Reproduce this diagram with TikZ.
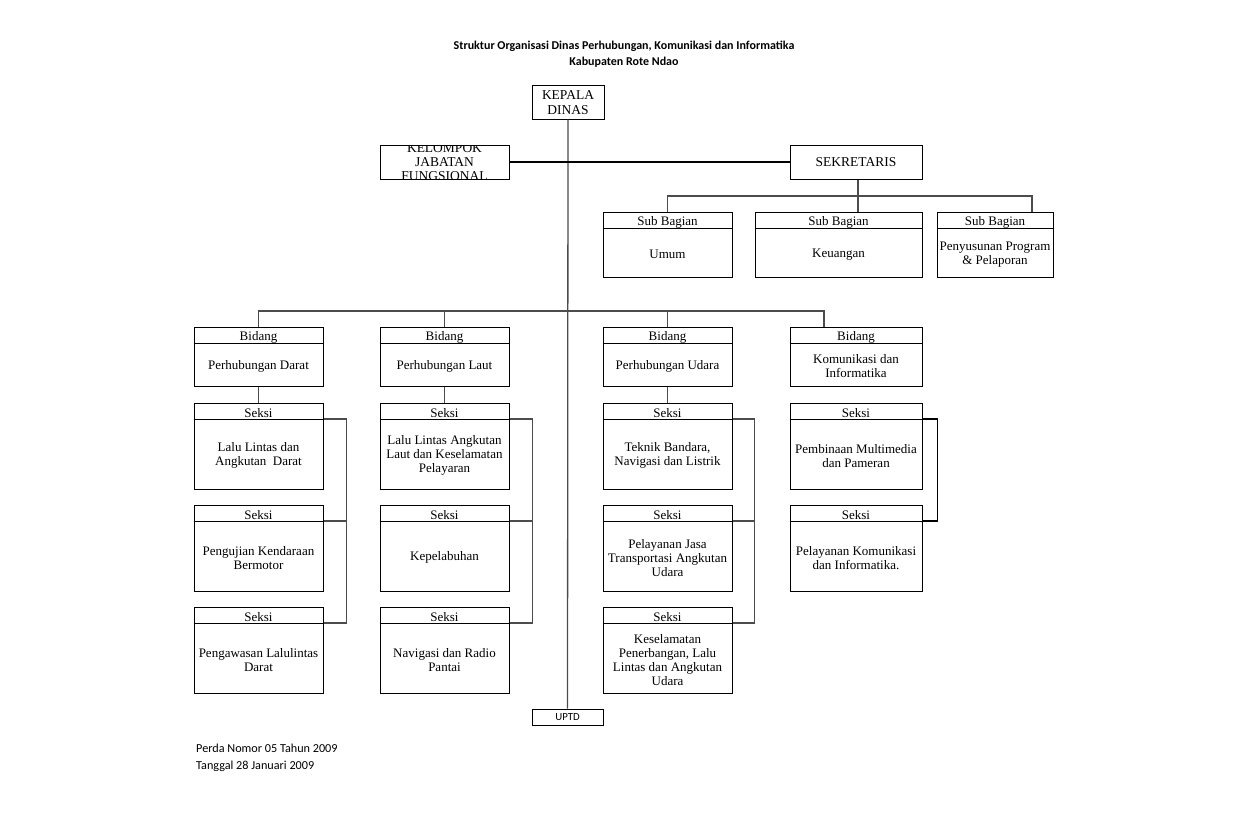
\documentclass[tikz,border=0pt]{standalone}
\usepackage{fontspec}
\setmainfont{Liberation Serif}
\newfontfamily\calfont{Carlito}
\usetikzlibrary{calc}
\newcommand{\orgbox}[7]{%
 \pgfmathsetmacro{\bw}{#4-#2}\pgfmathsetmacro{\bh}{#5-#3}%
 \pgfmathsetmacro{\bx}{(#2+#4)/2}\pgfmathsetmacro{\by}{(#3+#5)/2}%
 \node[box, minimum width=\bw pt, minimum height=\bh pt] (#1) at (\bx,\by) {};
 \draw[hline] ([yshift=-16.5pt]#1.north west) coordinate (#1-hw) -- ([yshift=-16.5pt]#1.north east) coordinate (#1-h);
 \node[txt] (#1-t) at ([yshift=-10.8pt]#1.north) {#6};
 \node[txt] (#1-b) at ($([yshift=-18pt]#1.north)!0.5!([yshift=-1.5pt]#1.south)$) {#7};
}
\begin{document}
\begin{tikzpicture}[x=1pt,y=-1pt,
 box/.style={draw=black, line width=1pt, shape=rectangle, inner sep=0pt},
 hline/.style={draw=black, line width=1pt},
 conn/.style={draw=black!70, line width=1.3pt},
 txt/.style={align=center, font=\fontsize{13}{14}\selectfont, inner sep=0pt}]
\useasboundingbox[fill=white] (0,0) rectangle (1248,816);

% title
\node[font=\calfont\bfseries\fontsize{12}{16}\selectfont, align=center, inner sep=0pt] (title) at (624,54) {Struktur Organisasi Dinas Perhubungan, Komunikasi dan Informatika\\Kabupaten Rote Ndao};

% top boxes
\node[box, minimum width=72pt, minimum height=33pt, align=center, font=\fontsize{13.5}{15}\selectfont] (kepala) at (568,102.5) {KEPALA\\DINAS};
\begin{scope}
 \clip (380,145) rectangle (509,179);
 \node[txt, font=\fontsize{13.5}{14}\selectfont] (kelompok-t) at (444.5,162) {KELOMPOK\\JABATAN\\FUNGSIONAL};
\end{scope}
\node[box, minimum width=129pt, minimum height=34pt] (kelompok) at (444.5,162) {};
\node[box, minimum width=132pt, minimum height=34pt, font=\fontsize{13.5}{15}\selectfont] (sekretaris) at (856,162) {SEKRETARIS};

% sub bagian
\orgbox{umum}{603}{212}{732}{277}{Sub Bagian}{Umum}
\orgbox{keu}{755}{212}{922}{277}{Sub Bagian}{Keuangan}
\orgbox{peny}{937}{212}{1053}{277}{Sub Bagian}{Penyusunan Program\\\& Pelaporan}

% bidang
\orgbox{darat}{194}{327}{323}{386}{Bidang}{Perhubungan Darat}
\orgbox{laut}{380}{327}{509}{386}{Bidang}{Perhubungan Laut}
\orgbox{udara}{603}{327}{732}{386}{Bidang}{Perhubungan Udara}
\orgbox{kominfo}{790}{327}{922}{386}{Bidang}{Komunikasi dan\\Informatika}

% seksi darat
\orgbox{d1}{194}{403}{323}{489}{Seksi}{Lalu Lintas dan\\Angkutan\ \ Darat}
\orgbox{d2}{194}{505}{323}{591}{Seksi}{Pengujian Kendaraan\\Bermotor}
\orgbox{d3}{194}{607}{323}{693}{Seksi}{Pengawasan Lalulintas\\Darat}
% seksi laut
\orgbox{l1}{380}{403}{509}{489}{Seksi}{Lalu Lintas Angkutan\\Laut dan Keselamatan\\Pelayaran}
\orgbox{l2}{380}{505}{509}{591}{Seksi}{Kepelabuhan}
\orgbox{l3}{380}{607}{509}{693}{Seksi}{Navigasi dan Radio\\Pantai}
% seksi udara
\orgbox{u1}{603}{403}{732}{489}{Seksi}{Teknik Bandara,\\Navigasi dan Listrik}
\orgbox{u2}{603}{505}{732}{591}{Seksi}{Pelayanan Jasa\\Transportasi Angkutan\\Udara}
\orgbox{u3}{603}{607}{732}{693}{Seksi}{Keselamatan\\Penerbangan, Lalu\\Lintas dan Angkutan\\Udara}
% seksi kominfo
\orgbox{k1}{790}{403}{922}{489}{Seksi}{Pembinaan Multimedia\\dan Pameran}
\orgbox{k2}{790}{505}{922}{591}{Seksi}{Pelayanan Komunikasi\\dan Informatika.}

% uptd
\node[box, minimum width=71pt, minimum height=16pt, font=\calfont\fontsize{10.8}{11}\selectfont] (uptd) at (567.5,717) {UPTD};

% connectors
\draw[conn] (kepala.south) -- (uptd.north);
\draw[conn, draw=black] (kelompok.east) -- (sekretaris.west);
\coordinate (sbus) at (858,196);
\coordinate (bbus) at (569,311);
\draw[conn] (sekretaris.south -| sbus) -- (keu.north -| sbus);
\draw[conn] (umum.north) |- (sbus);
\draw[conn] ([xshift=37pt]peny.north) |- (sbus);
\draw[conn] (darat.north) |- (bbus);
\draw[conn] (laut.north) |- (bbus);
\draw[conn] (udara.north) |- (bbus);
\draw[conn] ([xshift=-32pt]kominfo.north) |- (bbus);
\draw[conn] (darat.south) -- (d1.north);
\draw[conn] (laut.south) -- (l1.north);
\draw[conn] (udara.south) -- (u1.north);
% brackets
\draw[conn] (d1-h) -- ++(23,0) |- (d3-h);
\draw[conn] (d2-h) -- ++(23,0);
\draw[conn] (l1-h) -- ++(23,0) |- (l3-h);
\draw[conn] (l2-h) -- ++(23,0);
\draw[conn] (u1-h) -- ++(22,0) |- (u3-h);
\draw[conn] (u2-h) -- ++(22,0);
\draw[conn, draw=black] (k1-h) -- ++(15,0) |- (k2-h);

% footer
\node[anchor=west, align=left, inner sep=0pt, font=\calfont\fontsize{12.2}{17}\selectfont] (footer) at (196,757.5) {Perda Nomor 05 Tahun 2009\\Tanggal 28 Januari 2009};
\end{tikzpicture}
\end{document}
